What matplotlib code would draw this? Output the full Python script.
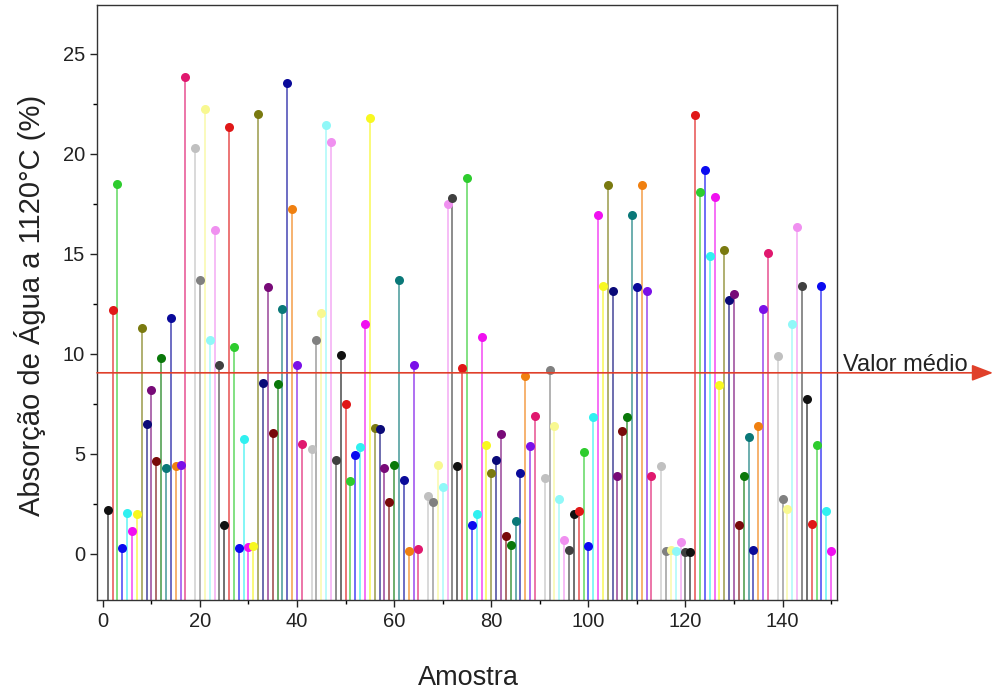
import numpy as np
import matplotlib
matplotlib.use("Agg")
import matplotlib.pyplot as plt
from matplotlib.ticker import MultipleLocator

plt.rcParams['font.family'] = ['Liberation Sans', 'DejaVu Sans']

# Sample numbers 1..150
samples = list(range(1, 151))

# Water absorption values (%); None = white (invisible) sample
absorption = [
    2.2, 12.2, 18.5, 0.28, 2.03, 1.12, 2.0, 11.3, 6.5, 8.2,
    4.65, 9.8, 4.27, 11.8, 4.37, 4.43, 23.85, None, 20.3, 13.7,
    22.25, 10.67, 16.18, 9.42, 1.45, 21.35, 10.35, 0.27, 5.75, 0.33,
    0.4, 21.98, 8.53, 13.35, 6.05, 8.47, 12.22, 23.55, 17.22, 9.42,
    5.47, None, 5.23, 10.67, 12.03, 21.43, 20.6, 4.67, 9.92, 7.48,
    3.62, 4.92, 5.33, 11.48, 21.77, 6.28, 6.25, 4.3, 2.6, 4.45,
    13.67, 3.7, 0.13, 9.42, 0.23, None, 2.87, 2.58, 4.42, 3.32,
    17.5, 17.78, 4.38, 9.27, 18.78, 1.45, 2.0, 10.83, 5.45, 4.03,
    4.67, 6.0, 0.87, 0.45, 1.65, 4.03, 8.87, 5.37, 6.9, None,
    3.78, 9.2, 6.37, 2.73, 0.7, 0.2, 2.0, 2.12, 5.07, 0.4,
    6.82, 16.92, 13.37, 18.43, 13.12, 3.9, 6.15, 6.82, 16.92, 13.33,
    18.43, 13.12, 3.9, None, 4.37, 0.12, 0.2, 0.12, 0.57, 0.1,
    0.1, 21.92, 18.1, 19.17, 14.9, 17.82, 8.45, 15.2, 12.67, 13.0,
    1.45, 3.9, 5.82, 0.2, 6.37, 12.23, 15.03, None, 9.87, 2.73,
    2.23, 11.5, 16.33, 13.37, 7.73, 1.48, 5.42, 13.37, 2.12, 0.12,
]

# Origin-style colour cycle (24 colours)
palette = [
    '#111111', '#E01818', '#2ECC2E', '#0A0AF0', '#30F0F0', '#F010F0',
    '#F8F820', '#7A7A10', '#0A0A78', '#780A78', '#780A0A', '#0A780A',
    '#0A7878', '#0A0A9A', '#F08010', '#7A10E8', '#E0186E', '#FFFFFF',
    '#C0C0C0', '#808080', '#F8F890', '#90F8F8', '#F090F0', '#404040',
]

mean_value = 9.05
x_ticks = [0, 20, 40, 60, 80, 100, 120, 140]
y_ticks = [0, 5, 10, 15, 20, 25]

fig = plt.figure(figsize=(9.94, 6.95), dpi=100)
ax = fig.add_axes([0.0976, 0.137, 0.7444, 0.856])

ymin, ymax = -2.3, 27.45
ax.set_xlim(-1.2, 151.2)
ax.set_ylim(ymin, ymax)

for i, (s, v) in enumerate(zip(samples, absorption)):
    if v is None:
        continue
    c = palette[i % len(palette)]
    ax.vlines(s, ymin, v, colors=c, linewidth=1.4, alpha=0.6, zorder=2)
    ax.plot(s, v, 'o', color=c, markersize=6.5, markeredgewidth=0, zorder=3)

# mean line with arrow extending outside the axes
ax.annotate('', xy=(0.999, mean_value), xycoords=('figure fraction', 'data'),
            xytext=(-1.2, mean_value), textcoords='data',
            arrowprops=dict(arrowstyle='-|>,head_length=1.3,head_width=0.5',
                            color='#E0402A', lw=1.2, shrinkA=0, shrinkB=0),
            annotation_clip=False, zorder=4)
fig.text(0.848, 1 - 371 / 695, 'Valor médio', fontsize=17, ha='left',
         va='baseline', color='#222222')

ax.set_xticks(x_ticks)
ax.set_yticks(y_ticks)
ax.xaxis.set_minor_locator(MultipleLocator(10))
ax.yaxis.set_minor_locator(MultipleLocator(2.5))
ax.tick_params(axis='both', which='major', labelsize=14.5, length=5, width=1,
               colors='#222222', direction='out')
ax.tick_params(axis='both', which='minor', length=3, width=1, direction='out')

for sp in ax.spines.values():
    sp.set_linewidth(1.0)
    sp.set_color('#333333')

fig.text(468 / 994, 1 - 678 / 695, 'Amostra', fontsize=19.5, ha='center',
         va='center', color='#222222')
fig.text(30 / 994, 1 - 305 / 695, 'Absorção de Água a 1120°C (%)',
         fontsize=21, rotation=90, ha='center', va='center', color='#222222')

fig.savefig('out.png', dpi=100)
